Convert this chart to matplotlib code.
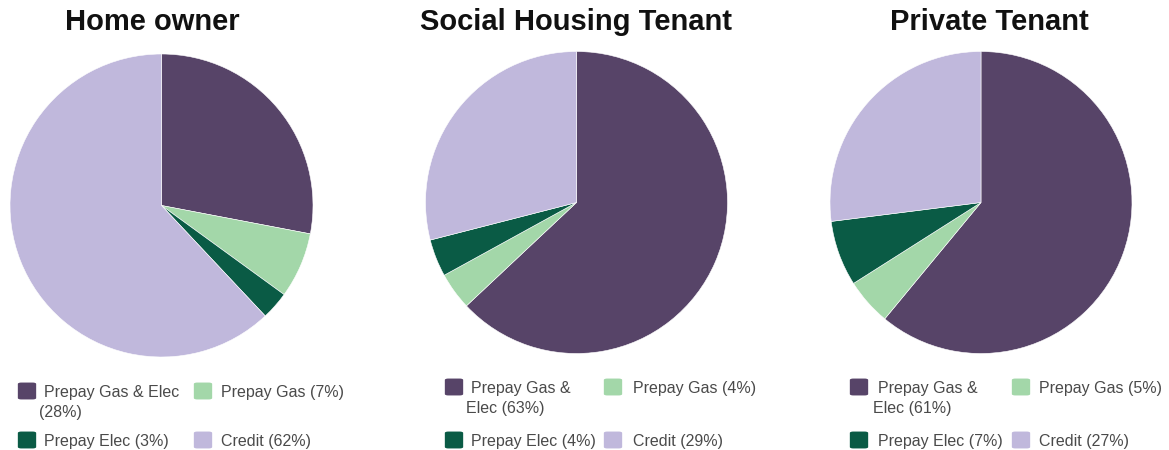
import textwrap
import matplotlib.pyplot as plt
from matplotlib.patches import FancyBboxPatch

plt.rcParams['font.family'] = ['Liberation Sans', 'DejaVu Sans']

W, H = 1169, 450

categories = ["Prepay Gas & Elec", "Prepay Gas", "Prepay Elec", "Credit"]
colors = ["#574468", "#a3d7a9", "#0a5b45", "#c0b8dc"]

titles = ["Home owner", "Social Housing Tenant", "Private Tenant"]
home_owner = [28, 7, 3, 62]
social_tenant = [63, 4, 4, 29]
private_tenant = [61, 5, 7, 27]
values = [home_owner, social_tenant, private_tenant]

# layout in pixels (from the top-left corner)
centres = [(161.5, 205.5), (576.5, 202.5), (981, 202.5)]
radius = [151.5, 151, 151]
title_x = [152, 576, 989]
wrap = [17, 12, 12]
# legend: col1 marker x, col1 text x, col2 marker x, col2 text x, row1 y, row2 y
leg = [(18, 44, 194, 221, 391, 440),
       (445, 471, 604, 633, 387, 440),
       (850, 878, 1012, 1039, 387, 440)]


def fx(x):
    return x / W


def fy(y):
    return 1 - y / H


fig = plt.figure(figsize=(W / 100, H / 100), dpi=100)

for i in range(3):
    cx, cy = centres[i]
    r = radius[i]
    ax = fig.add_axes([fx(cx - r), fy(cy + r), 2 * r / W, 2 * r / H])
    ax.pie(values[i], colors=colors, startangle=90, counterclock=False,
           wedgeprops=dict(linewidth=0.4, edgecolor="white"))
    ax.set_xlim(-1, 1)
    ax.set_ylim(-1, 1)
    ax.axis("off")

    fig.text(fx(title_x[i]), fy(22), titles[i], ha="center", va="center",
             fontsize=21, fontweight="bold", color="#111111")

    m1, t1, m2, t2, r1, r2 = leg[i]
    spots = [(m1, t1, r1), (m2, t2, r1), (m1, t1, r2), (m2, t2, r2)]
    for k in range(4):
        mx, tx, ry = spots[k]
        lab = "%s (%d%%)" % (categories[k], values[i][k])
        if k == 0:
            lines = textwrap.wrap(lab, wrap[i])
        else:
            lines = [lab]
        box = FancyBboxPatch((fx(mx + 1), fy(ry + 8)), 16 / W, 16 / H,
                             boxstyle="round,pad=0.001,rounding_size=0.003",
                             transform=fig.transFigure, facecolor=colors[k],
                             edgecolor="none")
        fig.add_artist(box)
        for j, ln in enumerate(lines):
            x = tx if j == 0 else tx - 5
            fig.text(fx(x), fy(ry + 20 * j), ln, ha="left",
                     va="center_baseline", fontsize=11.5, color="#4a4a4a")

fig.savefig("out.png", dpi=100, facecolor="white")
